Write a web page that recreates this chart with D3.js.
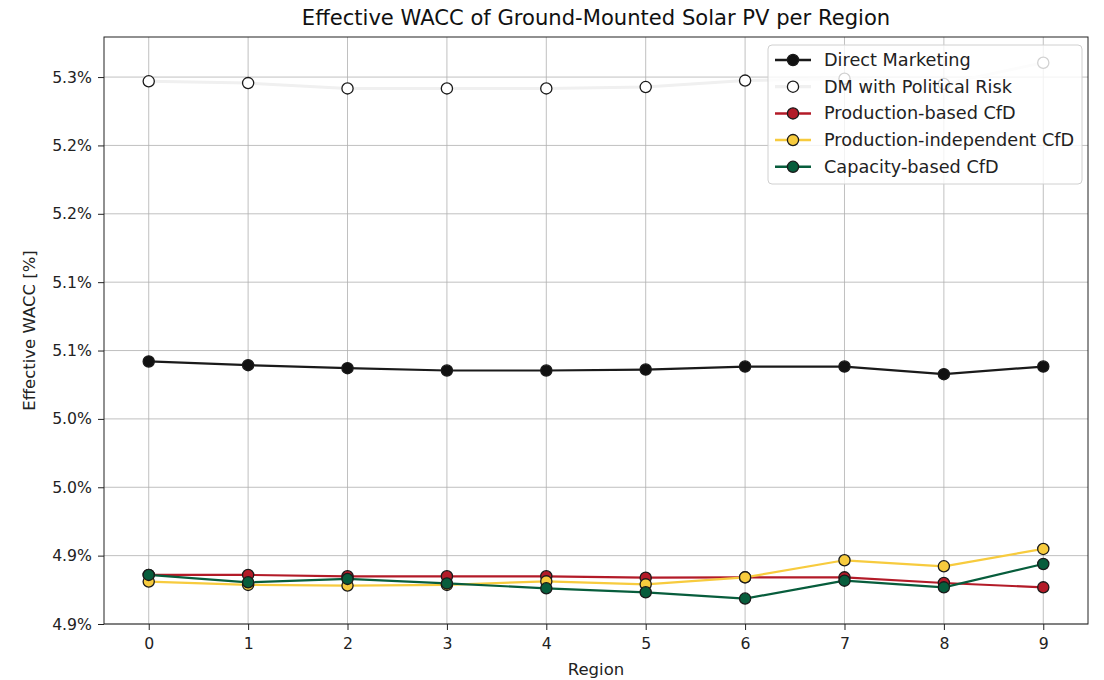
<!DOCTYPE html>
<html><head><meta charset="utf-8">
<script src="https://cdn.jsdelivr.net/npm/d3@7"></script>
<style>body{margin:0;background:#fff;font-family:"DejaVu Sans",sans-serif;}</style>
</head><body><svg id="c" width="1104" height="680"></svg>
<script>
const regions = [0,1,2,3,4,5,6,7,8,9];
const directMarketing = [5.0920,5.0893,5.0871,5.0854,5.0854,5.0861,5.0883,5.0883,5.0827,5.0883];
const dmPoliticalRisk = [5.2969,5.2956,5.2917,5.2917,5.2917,5.2927,5.2974,5.2988,5.2950,5.3105];
const productionBased = [4.9359,4.9359,4.9349,4.9349,4.9349,4.9339,4.9341,4.9341,4.9300,4.9268];
const productionIndependent = [4.9310,4.9286,4.9281,4.9286,4.9312,4.9290,4.9341,4.9466,4.9422,4.9549];
const capacityBased = [4.9359,4.9305,4.9330,4.9297,4.9261,4.9232,4.9186,4.9317,4.9268,4.9439];
const yTickValues = [4.90,4.95,5.00,5.05,5.10,5.15,5.20,5.25,5.30];
const yTickLabels = ["4.9%","4.9%","5.0%","5.0%","5.1%","5.1%","5.2%","5.2%","5.3%"];

const series = [
  {name:"Direct Marketing", values:directMarketing, line:"#1a1a1a", fill:"#111111", lw:2.2, z:1},
  {name:"DM with Political Risk", values:dmPoliticalRisk, line:"#f0f0f0", fill:"#ffffff", lw:3, z:0},
  {name:"Production-based CfD", values:productionBased, line:"#b31b28", fill:"#b31b28", lw:2.2, z:2},
  {name:"Production-independent CfD", values:productionIndependent, line:"#f7cb3e", fill:"#f7cb3e", lw:2.2, z:3},
  {name:"Capacity-based CfD", values:capacityBased, line:"#075d3c", fill:"#075d3c", lw:2.2, z:4}
];

const svg = d3.select("#c");
const L=104, R=1088, T=37, B=624;
const x = d3.scaleLinear().domain([-0.45,9.45]).range([L,R]);
const y = d3.scaleLinear().domain([4.9,5.3293]).range([B,T]);

// grid
const g = svg.append("g");
g.selectAll(".gx").data(regions).join("line")
  .attr("x1",d=>x(d)).attr("x2",d=>x(d)).attr("y1",T).attr("y2",B)
  .attr("stroke","#b0b0b0").attr("stroke-width",0.8);
g.selectAll(".gy").data(yTickValues).join("line")
  .attr("x1",L).attr("x2",R).attr("y1",d=>y(d)).attr("y2",d=>y(d))
  .attr("stroke","#b0b0b0").attr("stroke-width",0.8);

// axes
const xAxis = d3.axisBottom(x).tickValues(regions).tickFormat(d3.format("d")).tickSize(6).tickPadding(8);
const yAxis = d3.axisLeft(y).tickValues(yTickValues).tickFormat((d,i)=>yTickLabels[i]).tickSize(6).tickPadding(6);
const ax = svg.append("g").attr("transform",`translate(0,${B})`).call(xAxis);
const ay = svg.append("g").attr("transform",`translate(${L},0)`).call(yAxis);
[ax,ay].forEach(a=>{
  a.select(".domain").remove();
  a.selectAll("text").attr("font-family","DejaVu Sans").attr("font-size",15.7).attr("fill","#222");
  a.selectAll("line").attr("stroke","#222");
});

// lines
const line = d3.line().x((d,i)=>x(regions[i])).y(d=>y(d));
const order = series.slice().sort((a,b)=>a.z-b.z);
order.forEach(s=>{
  svg.append("path").datum(s.values).attr("d",line)
    .attr("fill","none").attr("stroke",s.line).attr("stroke-width",s.lw).attr("stroke-linejoin","round");
  svg.selectAll(null).data(s.values).join("circle")
    .attr("cx",(d,i)=>x(regions[i])).attr("cy",d=>y(d)).attr("r",5.6)
    .attr("fill",s.fill).attr("stroke","#1a1a1a").attr("stroke-width",1.3);
});

// frame
svg.append("rect").attr("x",L).attr("y",T).attr("width",R-L).attr("height",B-T)
  .attr("fill","none").attr("stroke","#222").attr("stroke-width",1);

// title & labels
svg.append("text").attr("x",(L+R)/2).attr("y",25).attr("text-anchor","middle")
  .attr("font-size",21.1).attr("fill","#111").text("Effective WACC of Ground-Mounted Solar PV per Region");
svg.append("text").attr("x",(L+R)/2).attr("y",675).attr("text-anchor","middle")
  .attr("font-size",16.5).attr("fill","#222").text("Region");
svg.append("text").attr("transform",`translate(35,${(T+B)/2}) rotate(-90)`).attr("text-anchor","middle")
  .attr("font-size",16.5).attr("fill","#222").text("Effective WACC [%]");

// legend
const lg = svg.append("g");
lg.append("rect").attr("x",768).attr("y",45).attr("width",314).attr("height",139).attr("rx",4)
  .attr("fill","#fff").attr("fill-opacity",0.8).attr("stroke","#d0d0d0").attr("stroke-width",1);
series.forEach((s,i)=>{
  const yy = 60 + i*26.7;
  lg.append("line").attr("x1",775).attr("x2",811).attr("y1",yy).attr("y2",yy)
    .attr("stroke",s.line).attr("stroke-width",s.lw+0.3);
  lg.append("circle").attr("cx",793).attr("cy",yy).attr("r",5.6)
    .attr("fill",s.fill).attr("stroke","#1a1a1a").attr("stroke-width",1.3);
  lg.append("text").attr("x",824).attr("y",yy+6).attr("font-size",17.7).attr("fill","#222").text(s.name);
});
</script></body></html>
